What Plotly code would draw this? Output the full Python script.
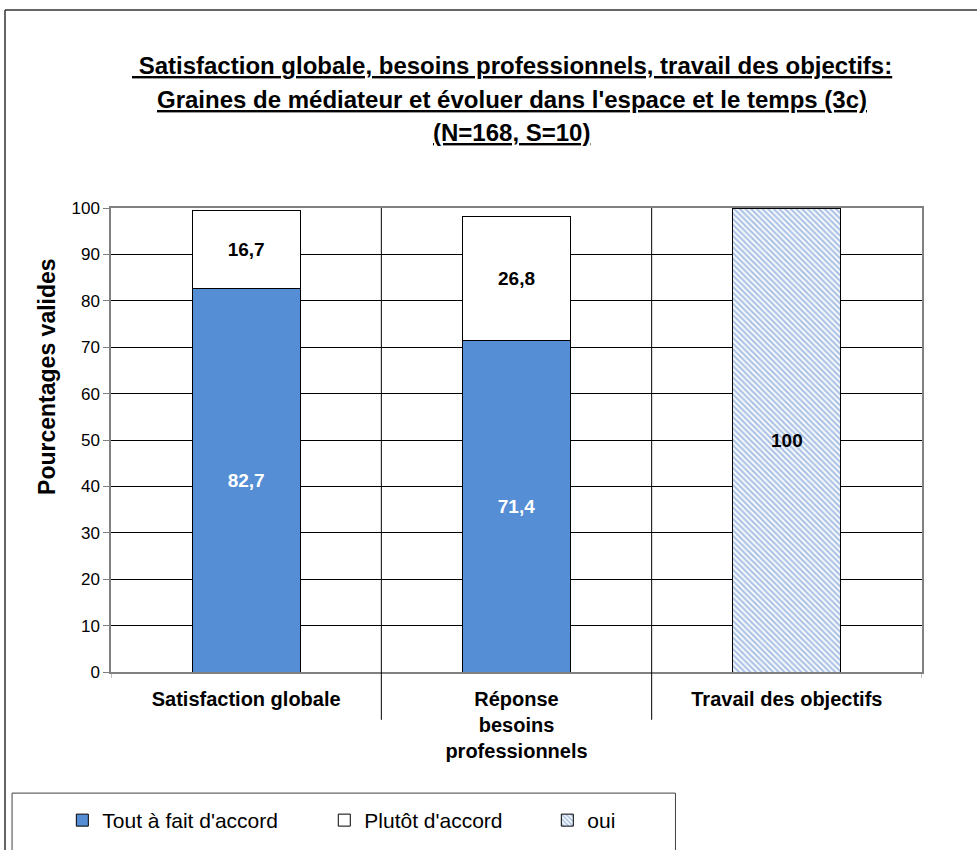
import plotly.graph_objects as go

# Survey results, valid percentages
categories = ["Satisfaction globale", "Réponse<br>besoins<br>professionnels", "Travail des objectifs"]
tout_a_fait = [82.7, 71.4, None]
plutot = [16.7, 26.8, None]
oui = [None, None, 100]
title_lines = [
    " Satisfaction globale, besoins professionnels, travail des objectifs:",
    "Graines de médiateur et évoluer dans l'espace et le temps (3c)",
    "(N=168, S=10)",
]

x_pos = [0, 1, 2]
BLUE = "#558ED5"
FONT = "Liberation Sans, Arial, sans-serif"


def fr(values):
    return ["" if v is None else (f"{v:.1f}".replace(".", ",") if v != int(v) else str(int(v))) for v in values]


label_font = dict(family=FONT, size=19, weight="bold")

fig = go.Figure()
fig.add_trace(go.Bar(
    x=x_pos, y=tout_a_fait, name="Tout à fait d'accord", width=0.4,
    marker=dict(color=BLUE, line=dict(color="#000000", width=1)),
    text=fr(tout_a_fait), textposition="inside", insidetextanchor="middle",
    textfont=dict(color="white", **label_font), legend="legend",
))
fig.add_trace(go.Bar(
    x=x_pos, y=plutot, name="Plutôt d'accord", width=0.4,
    marker=dict(color="white", line=dict(color="#000000", width=1)),
    text=fr(plutot), textposition="inside", insidetextanchor="middle",
    textfont=dict(color="black", **label_font), legend="legend2",
))
fig.add_trace(go.Bar(
    x=x_pos, y=oui, name="oui", width=0.4,
    marker=dict(color="white", line=dict(color="#000000", width=1),
                pattern=dict(shape="\\", fgcolor="#5B88CB", bgcolor="white",
                             size=4, solidity=0.55)),
    text=fr(oui), textposition="inside", insidetextanchor="middle",
    textfont=dict(color="black", **label_font), legend="legend3",
))

shapes = []
# category separators extending below the axis
for xs in [0.5, 1.5]:
    shapes.append(dict(type="line", xref="x", yref="paper", x0=xs, x1=xs,
                       y0=-0.103, y1=1, line=dict(color="#000000", width=1)))
# outer tick marks at the category axis ends
for xs in [-0.5, 2.5]:
    shapes.append(dict(type="line", xref="x", yref="paper", x0=xs, x1=xs,
                       y0=-0.013, y1=0, line=dict(color="#808080", width=1)))
# chart frame (top and left edges)
shapes.append(dict(type="line", xref="paper", yref="paper", x0=-0.1307, x1=1.07,
                   y0=1.4267, y1=1.4267, line=dict(color="#333333", width=1.5)))
shapes.append(dict(type="line", xref="paper", yref="paper", x0=-0.1307, x1=-0.1307,
                   y0=1.4267, y1=-0.39, line=dict(color="#333333", width=1.5)))
# legend box
shapes.append(dict(type="rect", xref="paper", yref="paper", x0=-0.122, x1=0.696,
                   y0=-0.261, y1=-0.40, line=dict(color="#404040", width=1),
                   fillcolor="rgba(0,0,0,0)"))

annotations = []
for line, ty in zip(title_lines, [1.307, 1.233, 1.162]):
    annotations.append(dict(
        text=f"<b><u>{line}</u></b>", xref="paper", yref="paper", x=0.494, y=ty,
        xanchor="center", yanchor="middle", showarrow=False,
        font=dict(family=FONT, size=24, color="#000000")))
annotations.append(dict(
    text="<b>Pourcentages valides</b>", xref="paper", yref="paper",
    x=-0.079, y=0.638, xanchor="center", yanchor="middle", textangle=-90,
    showarrow=False, font=dict(family=FONT, size=23, color="#000000")))

leg_common = dict(orientation="h", xanchor="left", yanchor="middle", y=-0.32,
                  font=dict(family=FONT, size=21, color="#000000"),
                  bgcolor="rgba(0,0,0,0)", borderwidth=0)

fig.update_layout(
    width=977, height=850,
    margin=dict(l=111, r=55, t=208, b=178, autoexpand=False),
    paper_bgcolor="white", plot_bgcolor="white",
    barmode="stack",
    showlegend=True,
    legend=dict(x=-0.06, **leg_common),
    legend2=dict(x=0.263, **leg_common),
    legend3=dict(x=0.538, **leg_common),
    xaxis=dict(range=[-0.5, 2.5], tickvals=x_pos, ticktext=[f"<b>{c}</b>" for c in categories],
               showgrid=False, zeroline=False, showline=True, linecolor="#808080",
               linewidth=1.5, mirror=True, ticks="", ticklabelstandoff=8,
               tickfont=dict(family=FONT, size=20, color="#000000")),
    yaxis=dict(range=[0, 100], dtick=10, showgrid=True, gridcolor="#000000", gridwidth=1,
               zeroline=False, showline=True, linecolor="#808080", linewidth=1.5, mirror=True,
               ticks="outside", ticklen=6, tickcolor="#808080",
               tickfont=dict(family=FONT, size=17, color="#000000")),
    shapes=shapes,
    annotations=annotations,
)

fig.write_html("out.html")
